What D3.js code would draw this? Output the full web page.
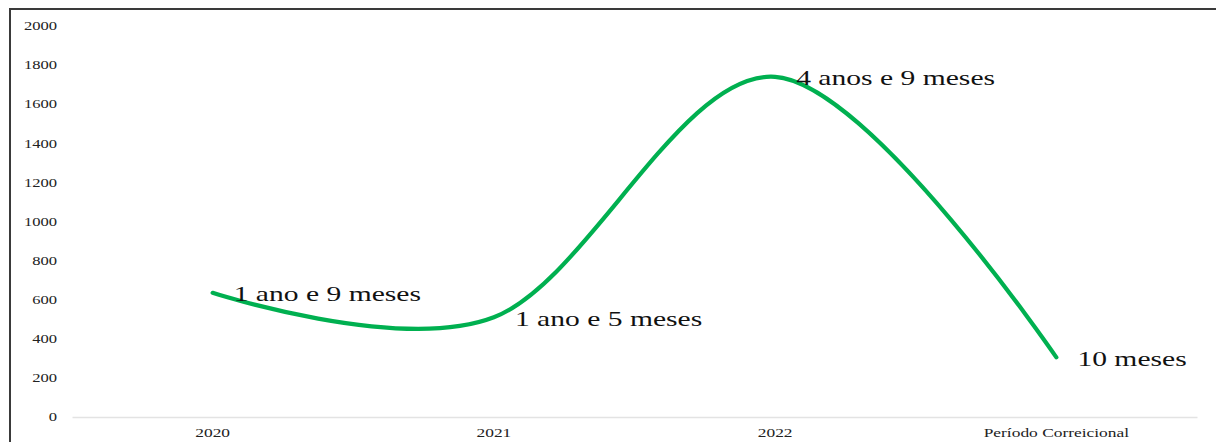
<!DOCTYPE html>
<html>
<head>
<meta charset="utf-8">
<script src="https://cdn.jsdelivr.net/npm/d3@7"></script>
<style>
html,body{margin:0;padding:0;background:#fff;}
svg{display:block;}
</style>
</head>
<body>
<svg id="chart" width="1216" height="442"></svg>
<script>
const categories = ["2020", "2021", "2022", "Período Correicional"];
const values = [635, 510, 1740, 305];
const pointLabels = ["1 ano e 9 meses", "1 ano e 5 meses", "4 anos e 9 meses", "10 meses"];
const yTicks = [0, 200, 400, 600, 800, 1000, 1200, 1400, 1600, 1800, 2000];

const W = 1216, H = 442;
const plot = {left: 72, right: 1197, top: 26, bottom: 417};
const FONT = "'Liberation Serif', 'DejaVu Serif', 'Times New Roman', serif";

const svg = d3.select("#chart");

svg.append("rect")
  .attr("x", 10).attr("y", 9)
  .attr("width", W + 20).attr("height", H + 20)
  .attr("fill", "none")
  .attr("stroke", "#3a3a3a")
  .attr("stroke-width", 2);

const x = d3.scaleBand().domain(categories).range([plot.left, plot.right]);
const y = d3.scaleLinear().domain([0, 2000]).range([plot.bottom, plot.top]);
const cx = d => x(d) + x.bandwidth() / 2;

const xAxis = d3.axisBottom(x).tickSize(0).tickPadding(0).tickFormat("");
const gx = svg.append("g").attr("transform", `translate(0,${y(0)})`).call(xAxis);
gx.select(".domain").attr("stroke", "#e3e3e3").attr("stroke-width", 1.5);

svg.append("g").selectAll("g").data(categories).join("g")
  .attr("transform", d => `translate(${cx(d)},437)`)
  .append("text")
  .attr("transform", `scale(1.45,1)`)
  .attr("text-anchor", "middle")
  .attr("font-family", FONT)
  .attr("font-size", 12)
  .attr("fill", "#222")
  .text(d => d);

svg.append("g").selectAll("g").data(yTicks).join("g")
  .attr("transform", d => `translate(57,${y(d)})`)
  .append("text")
  .attr("transform", `scale(1.38,1)`)
  .attr("text-anchor", "end")
  .attr("dy", "0.35em")
  .attr("font-family", FONT)
  .attr("font-size", 12)
  .attr("fill", "#222")
  .text(d => d);

const pts = categories.map((c, i) => [cx(c), y(values[i])]);
const line = d3.line().curve(d3.curveCardinal.tension(0));
svg.append("path")
  .attr("d", line(pts))
  .attr("fill", "none")
  .attr("stroke", "#00B050")
  .attr("stroke-width", 4.2)
  .attr("stroke-linecap", "round")
  .attr("stroke-linejoin", "round");

svg.append("g").selectAll("g").data(pts).join("g")
  .attr("transform", d => `translate(${d[0] + 21},${d[1] + 8.5})`)
  .append("text")
  .attr("transform", `scale(1.41,1)`)
  .attr("font-family", FONT)
  .attr("font-size", 21)
  .attr("fill", "#111")
  .text((d, i) => pointLabels[i]);
</script>
</body>
</html>
